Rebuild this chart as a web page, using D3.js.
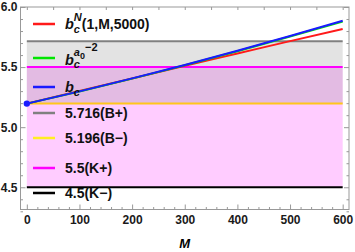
<!DOCTYPE html>
<html>
<head>
<meta charset="utf-8">
<script src="https://cdn.jsdelivr.net/npm/d3@7"></script>
<style>
  body { margin: 0; background: #fff; }
  text { font-family: "Liberation Sans", Arial, sans-serif; font-weight: bold; }
</style>
</head>
<body>
<div id="chart"></div>
<script>
// data
const mVals = [0, 100, 200, 300, 400, 500, 600];
const bcN = [5.196, 5.301, 5.405, 5.510, 5.613, 5.716, 5.817];
const bcA = [5.196, 5.297, 5.404, 5.515, 5.632, 5.754, 5.880];
const bc  = [5.196, 5.298, 5.406, 5.518, 5.636, 5.759, 5.886];

const levelVals = [5.716, 5.196, 5.5, 4.5];
const levelNames = ['5.716(B+)', '5.196(B\u2212)', '5.5(K+)', '4.5(K\u2212)'];

const xTicks = [0, 100, 200, 300, 400, 500, 600];
const yTicks = [4.5, 5.0, 5.5, 6.0];

const W = 355, H = 252;
const margin = { top: 7, right: 6, bottom: 42.5, left: 20.5 };
const width = W - margin.left - margin.right;
const height = H - margin.top - margin.bottom;

const svg = d3.select('#chart').append('svg')
    .attr('width', W).attr('height', H);
const g = svg.append('g')
    .attr('transform', `translate(${margin.left},${margin.top})`);

const x = d3.scaleLinear().domain([-12, 612]).range([0, width]);
const y = d3.scaleLinear().domain([4.315, 6.0]).range([height, 0]);

// shaded bands
g.append('rect')
    .attr('x', x(0)).attr('width', x(600) - x(0))
    .attr('y', y(5.5)).attr('height', y(4.5) - y(5.5))
    .attr('fill', '#ff00ff').attr('fill-opacity', 0.2);
g.append('rect')
    .attr('x', x(0)).attr('width', x(600) - x(0))
    .attr('y', y(5.716)).attr('height', y(5.196) - y(5.716))
    .attr('fill', '#808080').attr('fill-opacity', 0.22);

// horizontal levels
const levelColors = ['#808080', '#ffc61a', '#ff00ff', '#000000'];
const levelLegend = ['#808080', '#ffee22', '#ff00ff', '#000000'];
levelVals.forEach((v, i) => {
    g.append('line')
        .attr('x1', x(0)).attr('x2', x(600))
        .attr('y1', y(v)).attr('y2', y(v))
        .attr('stroke', levelColors[i]).attr('stroke-width', 2);
});

// curves
const line = d3.line()
    .x((d, i) => x(mVals[i]))
    .y(d => y(d))
    .curve(d3.curveMonotoneX);

g.append('path').datum(bcN).attr('d', line)
    .attr('fill', 'none').attr('stroke', '#ff1a1a').attr('stroke-width', 2);
g.append('path').datum(bcA).attr('d', line)
    .attr('fill', 'none').attr('stroke', '#00e600').attr('stroke-width', 2);
g.append('path').datum(bc).attr('d', line)
    .attr('fill', 'none').attr('stroke', '#1a1aff').attr('stroke-width', 2);

g.append('circle')
    .attr('cx', x(mVals[0])).attr('cy', y(bc[0])).attr('r', 3.2)
    .attr('fill', '#1a1aff');

// frame + ticks
const frameColor = '#999999';
g.append('rect')
    .attr('width', width).attr('height', height)
    .attr('fill', 'none').attr('stroke', frameColor).attr('stroke-width', 1);

function styleAxis(sel) {
    sel.select('.domain').remove();
    sel.selectAll('.tick line').attr('stroke', frameColor);
    sel.selectAll('text').attr('fill', '#1a1a1a').style('font-size', '12px');
}

const xMinor = d3.range(0, 601, 20).filter(v => v % 100 !== 0);
const yMinor = d3.range(43, 60).map(v => v / 10).filter(v => Math.round(v * 10) % 5 !== 0);
const xTop = d3.range(0, 601, 50);

g.append('g').attr('transform', `translate(0,${height})`)
    .call(d3.axisBottom(x).tickValues(xTicks).tickSize(-5).tickPadding(6).tickFormat(d3.format('d')))
    .call(styleAxis);
g.append('g').attr('transform', `translate(0,${height})`)
    .call(d3.axisBottom(x).tickValues(xMinor).tickSize(-2.5).tickFormat(''))
    .call(styleAxis);
g.append('g')
    .call(d3.axisTop(x).tickValues(xTop).tickSize(-3).tickFormat(''))
    .call(styleAxis);

g.append('g')
    .call(d3.axisLeft(y).tickValues(yTicks).tickSize(-5).tickPadding(3).tickFormat(d3.format('.1f')))
    .call(styleAxis);
g.append('g')
    .call(d3.axisLeft(y).tickValues(yMinor).tickSize(-2.5).tickFormat(''))
    .call(styleAxis);
g.append('g').attr('transform', `translate(${width},0)`)
    .call(d3.axisRight(y).tickValues(yTicks).tickSize(-5).tickFormat(''))
    .call(styleAxis);
g.append('g').attr('transform', `translate(${width},0)`)
    .call(d3.axisRight(y).tickValues(yMinor).tickSize(-2.5).tickFormat(''))
    .call(styleAxis);

// axis label
svg.append('text')
    .attr('x', margin.left + x(300)).attr('y', 248)
    .attr('text-anchor', 'middle')
    .style('font-size', '13px').style('font-style', 'italic')
    .text('M');

// legend
const leg = svg.append('g');
const rowY = [24, 58, 87, 113, 138, 168, 193];
const rowBase = [5, 7, 5, 5, 5, 5, 5];
const legColors = ['#ff1a1a', '#00e600', '#1a1aff'].concat(levelLegend);

// rich text: list of pieces {t, size, italic, dy, stack}
function rich(parent, x0, base, pieces) {
    let cx = x0, prevX = x0;
    pieces.forEach(p => {
        const px = p.stack ? prevX : cx;
        const t = parent.append('text')
            .attr('x', px).attr('y', base + (p.dy || 0))
            .style('font-size', p.size + 'px')
            .style('font-style', p.italic ? 'italic' : 'normal')
            .attr('fill', '#111')
            .text(p.t);
        const w = t.node().getComputedTextLength();
        if (p.stack) {
            cx = Math.max(cx, px + w);
        } else {
            prevX = px;
            cx = px + w;
        }
    });
}

const labels = [
    [{t: 'b', size: 14.5, italic: true}, {t: 'c', size: 11, italic: true, dy: 4},
     {t: 'N', size: 11, italic: true, dy: -8, stack: true}, {t: '(1,M,5000)', size: 14}],
    [{t: 'b', size: 14.5, italic: true}, {t: 'c', size: 11, italic: true, dy: 3},
     {t: 'a', size: 11, italic: true, dy: -9, stack: true}, {t: '0', size: 9, dy: -6},
     {t: '\u22122', size: 11, dy: -14}],
    [{t: 'b', size: 14.5, italic: true}, {t: 'c', size: 11, italic: true, dy: 4}]
].concat(levelNames.map(n => [{t: n, size: 14}]));

rowY.forEach((ry, i) => {
    leg.append('line')
        .attr('x1', 33).attr('x2', 55).attr('y1', ry).attr('y2', ry)
        .attr('stroke', legColors[i]).attr('stroke-width', 2.5);
    rich(leg, 65, ry + rowBase[i], labels[i]);
});
</script>
</body>
</html>
